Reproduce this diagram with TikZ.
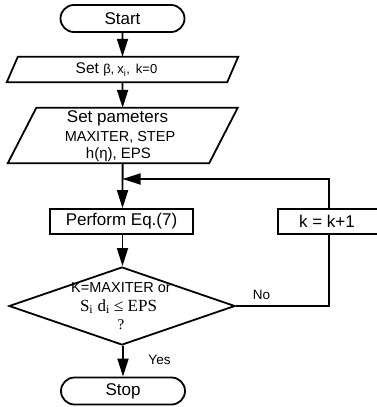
\documentclass[tikz,border=0pt]{standalone}
\usepackage{fontspec}
\setmainfont{Liberation Sans}
\newfontfamily\serifx{Liberation Serif}
\usetikzlibrary{shapes.misc,shapes.geometric,arrows.meta}
\begin{document}
\begin{tikzpicture}[x=1pt,y=-1pt,
  line/.style={line width=1.8pt},
  arr/.style={line width=1.8pt, -{Triangle[length=18pt,width=11pt]}},
  term/.style={rounded rectangle, draw, line width=1.8pt, minimum width=124pt, minimum height=27pt, inner sep=0pt, font=\fontsize{17}{20}\selectfont},
  procbox/.style={rectangle, draw, line width=1.8pt, minimum height=25pt, inner sep=0pt, font=\fontsize{17}{20}\selectfont},
  frame/.style={rectangle, inner sep=0pt},
  txt/.style={inner sep=0pt, font=\fontsize{#1}{#1}\selectfont},
  txt/.default=14
]
\useasboundingbox (0,0) rectangle (377,407);
\clip (0,0) rectangle (377,407);

% terminals
\node[term] (start) at (122.5,18.5) {Start};
\node[term] (stop) at (123,391) {Stop};

% parallelogram 1
\node[frame, minimum width=220pt, minimum height=25pt] (p1) at (122.5,69.5) {};
\draw[line] ([xshift=-5.5pt]p1.south west) -- ([xshift=5.5pt]p1.north west) -- ([xshift=5.5pt]p1.north east) -- ([xshift=-5.5pt]p1.south east) -- cycle;
\node[txt=15.5] (p1t) at (116.5,69.5) {Set {\fontsize{13}{13}\selectfont β,\hspace{3pt}x\textsubscript{i},\hspace{6pt}k=0}};

% parallelogram 2
\node[frame, minimum width=201pt, minimum height=55pt] (p2) at (122.75,135.5) {};
\draw[line] ([xshift=-14.25pt]p2.south west) -- ([xshift=14.25pt]p2.north west) -- ([xshift=14.25pt]p2.north east) -- ([xshift=-14.25pt]p2.south east) -- cycle;
\node[txt=17] (p2a) at (117.5,118) {Set pameters};
\node[txt=14.5] (p2b) at (120,137) {MAXITER, STEP};
\node[txt=15] (p2c) at (118.5,155) {h(η), EPS};

% process boxes
\node[procbox, minimum width=143pt] (perf) at (121.5,221.5) {Perform Eq.(7)};
\node[procbox, minimum width=102pt] (kbox) at (329,221.5) {\hspace*{-4pt}k = k+1};

% decision
\node[diamond, draw, line width=1.8pt, minimum width=226pt, minimum height=78pt, inner sep=0pt] (dec) at (122,306) {};
\node[txt=14.5] (d1) at (121,288) {K=MAXITER or};
\node[inner sep=0pt, font=\serifx\fontsize{17}{17}\selectfont] (d2) at (118.5,306.5) {S\textsubscript{i} d\textsubscript{i} ≤ EPS};
\node[inner sep=0pt, font=\serifx\fontsize{15}{15}\selectfont] (d3) at (121,325) {?};

% connectors
\coordinate (j) at (122.5,179);
\draw[arr] (start) -- (p1);
\draw[arr] (p1) -- (p2);
\draw[arr] (p2) -- (perf.north -| j);
\draw[arr] (perf.south -| j) -- (dec.north -| j);
\draw[arr] (dec.south -| stop) -- (stop);
\draw[line] (dec.east) -| (kbox.south);
\draw[arr] (kbox.north) |- (j);

% labels
\node[txt=13.5] (yes) at (159.5,360) {Yes};
\node[txt=13.5] (no) at (261.5,294.5) {No};
\end{tikzpicture}
\end{document}
